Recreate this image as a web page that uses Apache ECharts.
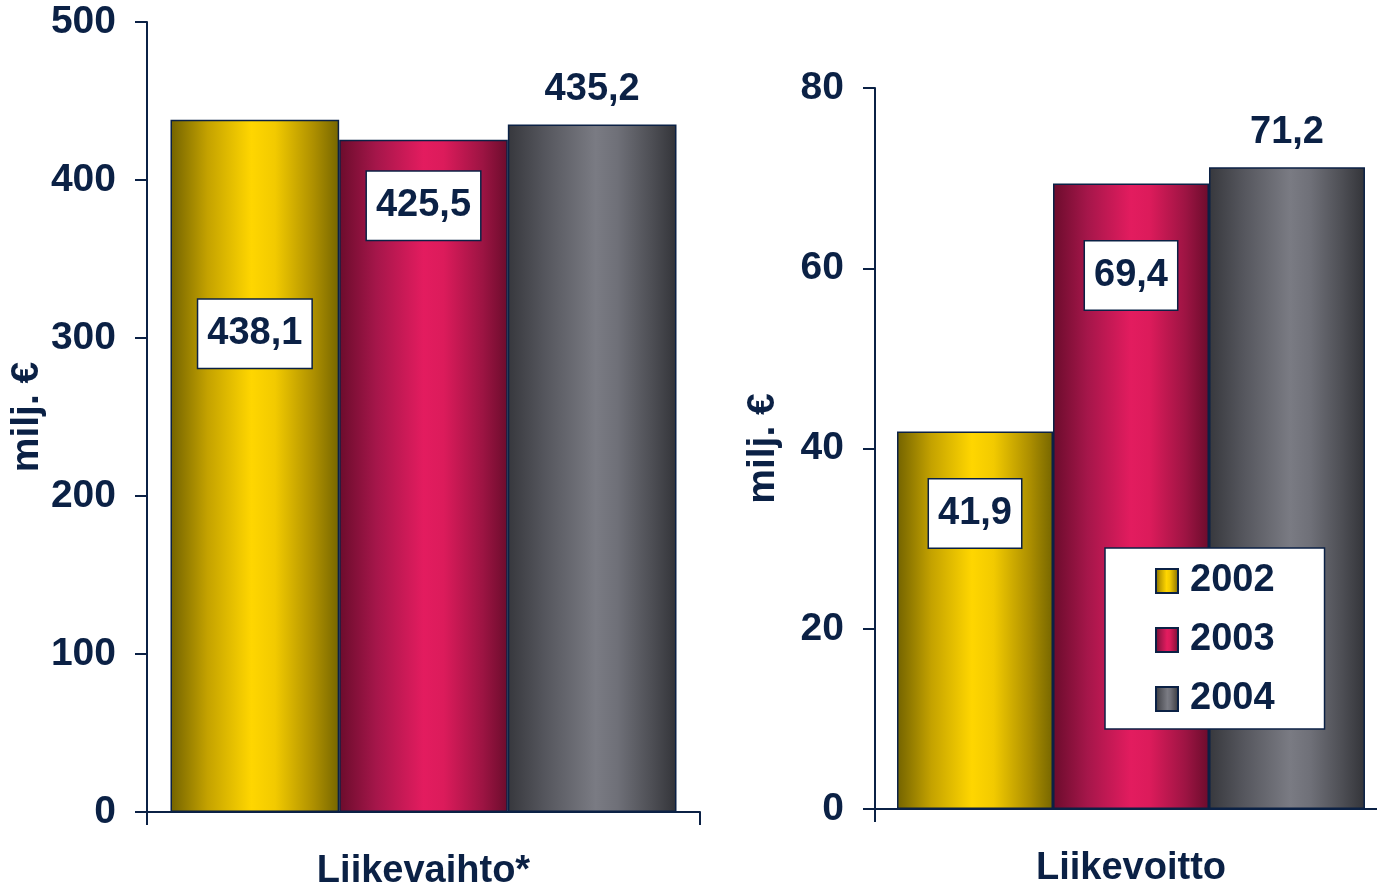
<!DOCTYPE html>
<html>
<head>
<meta charset="utf-8">
<script src="https://cdn.jsdelivr.net/npm/echarts@6/dist/echarts.min.js"></script>
<style>
  html, body { margin: 0; padding: 0; background: #fff; }
  #chart { width: 1377px; height: 884px; }
</style>
</head>
<body>
<div id="chart"></div>
<script>
// data
var years = ['2002', '2003', '2004'];
var catLeft = ['Liikevaihto*'];
var catRight = ['Liikevoitto'];
var liikevaihto = [438.1, 425.5, 435.2];
var liikevoitto = [41.9, 69.4, 71.2];
var yNameLeft = 'milj. €';
var yNameRight = 'milj. €';

var navy = '#0b2145';
var font = 'Liberation Sans, Arial, sans-serif';

function grad(stops) {
  return new echarts.graphic.LinearGradient(0, 0, 1, 0, stops.map(function (s) {
    return { offset: s[0], color: s[1] };
  }));
}
var fills = [
  grad([[0, '#736300'], [0.22, '#c4a200'], [0.48, '#ffd600'], [0.62, '#f2ca00'], [0.85, '#ad8f00'], [1, '#766600']]),
  grad([[0, '#6b0c2c'], [0.22, '#a5164a'], [0.5, '#e31c5f'], [0.62, '#dc1b5b'], [0.85, '#9d1443'], [1, '#6b0c2c']]),
  grad([[0, '#37383d'], [0.22, '#55565d'], [0.52, '#7a7b83'], [0.65, '#6f7078'], [0.85, '#4e4f55'], [1, '#333439']])
];

// label placement per bar: boxed (offset from bar top) or plain above
var boxLeft = [214, 66, null];
var boxRight = [82, 92, null];

function fmt(v) { return v.toFixed(1).replace('.', ','); }

function makeLabel(off) {
  var base = {
    show: true,
    formatter: function (p) { return fmt(p.value); },
    color: navy,
    fontFamily: font,
    fontWeight: 'bold',
    fontSize: 38,
    lineHeight: 38
  };
  if (off == null) {
    base.position = 'top';
    base.distance = 16;
  } else {
    base.position = ['50%', off];
    base.align = 'center';
    base.verticalAlign = 'middle';
    base.backgroundColor = '#fff';
    base.borderColor = navy;
    base.borderWidth = 1.5;
    base.padding = [15, 9];
  }
  return base;
}

var series = [];
years.forEach(function (y, i) {
  series.push({
    name: y, type: 'bar', xAxisIndex: 0, yAxisIndex: 0,
    barGap: '0%', barCategoryGap: '8.5%',
    itemStyle: { color: fills[i], borderColor: navy, borderWidth: 1.5 },
    label: makeLabel(boxLeft[i]),
    data: [liikevaihto[i]]
  });
});
years.forEach(function (y, i) {
  series.push({
    name: y, type: 'bar', xAxisIndex: 1, yAxisIndex: 1,
    barGap: '0%', barCategoryGap: '8.6%',
    itemStyle: { color: fills[i], borderColor: navy, borderWidth: 1.5 },
    label: makeLabel(boxRight[i]),
    data: [liikevoitto[i]]
  });
});

var axisLine = { show: true, lineStyle: { color: navy, width: 2 } };
var axisTick = { show: true, length: 12, lineStyle: { color: navy, width: 2 } };
var tickText = { color: navy, fontFamily: font, fontWeight: 'bold', fontSize: 39 };

function yAxis(idx, max, interval, name, gap) {
  return {
    type: 'value', gridIndex: idx, min: 0, max: max, interval: interval,
    name: name, nameLocation: 'middle', nameGap: gap, nameRotate: 90,
    nameTextStyle: { color: navy, fontFamily: font, fontWeight: 'bold', fontSize: 39 },
    axisLine: axisLine, axisTick: axisTick, splitLine: { show: false },
    axisLabel: Object.assign({ margin: 31 }, tickText)
  };
}
function xAxis(idx, data) {
  return {
    type: 'category', gridIndex: idx, data: data,
    axisLine: axisLine,
    axisTick: { show: true, length: 13, lineStyle: { color: navy, width: 2 } },
    axisLabel: Object.assign({ margin: 41 }, tickText, { fontSize: 38 })
  };
}

var chart = echarts.init(document.getElementById('chart'));
chart.setOption({
  animation: false,
  backgroundColor: '#fff',
  grid: [
    { left: 147, top: 22, width: 553, height: 790, outerBoundsMode: 'none', containLabel: false },
    { left: 875, top: 88, width: 512, height: 721, outerBoundsMode: 'none', containLabel: false }
  ],
  legend: {
    data: years,
    orient: 'vertical',
    left: 1105, top: 548,
    padding: [14, 50, 11, 50],
    itemGap: 21,
    itemWidth: 22, itemHeight: 24,
    icon: 'rect',
    backgroundColor: '#fff',
    borderColor: navy, borderWidth: 1.5,
    textStyle: { color: navy, fontFamily: font, fontWeight: 'bold', fontSize: 38, lineHeight: 36, padding: [0, 0, 0, 7] }
  },
  xAxis: [xAxis(0, catLeft), xAxis(1, catRight)],
  yAxis: [yAxis(0, 500, 100, yNameLeft, 97), yAxis(1, 80, 20, yNameRight, 92)],
  series: series
});
</script>
</body>
</html>
